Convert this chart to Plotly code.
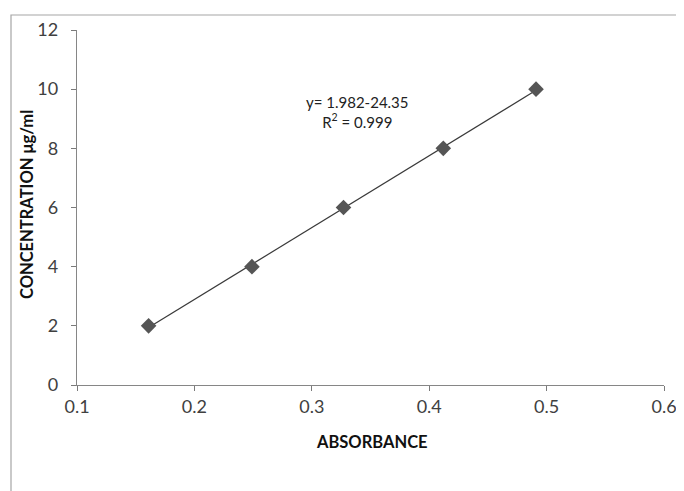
import numpy as np
import plotly.graph_objects as go

absorbance = [0.161, 0.249, 0.327, 0.412, 0.491]
concentration = [2, 4, 6, 8, 10]
x_ticks = [0.1, 0.2, 0.3, 0.4, 0.5, 0.6]
y_ticks = [0, 2, 4, 6, 8, 10, 12]
eq_text = "y= 1.982-24.35<br>R<sup>2</sup> = 0.999"
x_title = "<b>ABSORBANCE</b>"
y_title = "<b>CONCENTRATION μg/ml</b>"

slope, intercept = np.polyfit(absorbance, concentration, 1)
fit_x = [min(absorbance), max(absorbance)]
fit_y = [slope * v + intercept for v in fit_x]

font_family = "Lato, Open Sans, sans-serif"
OFF = 8  # page body offset
W, H = 684 - OFF, 491 - OFF
L, R, T, B = 77 - OFF, 20, 30 - OFF, 491 - 385
pw, ph = W - L - R, H - T - B

def px(xp):
    return (xp - OFF - L) / pw

def py(yp):
    return (H - B - (yp - OFF)) / ph

fig = go.Figure()
fig.add_trace(go.Scatter(x=fit_x, y=fit_y, mode="lines",
                         line=dict(color="#3a3a3a", width=1.2), hoverinfo="skip"))
fig.add_trace(go.Scatter(x=absorbance, y=concentration, mode="markers",
                         marker=dict(symbol="diamond", size=12, color="#555555")))

fig.add_annotation(x=px(357), y=py(112), xref="paper", yref="paper", text=eq_text, showarrow=False,
                   xanchor="center", yanchor="middle",
                   font=dict(family=font_family, size=15, color="#222222"), align="center")
fig.add_annotation(x=px(372), y=py(442), xref="paper", yref="paper", text=x_title, showarrow=False,
                   xanchor="center", yanchor="middle",
                   font=dict(family=font_family, size=16.5, color="#111111"))
fig.add_annotation(x=px(27), y=py(205), xref="paper", yref="paper", text=y_title, showarrow=False,
                   xanchor="center", yanchor="middle",
                   textangle=-90, font=dict(family=font_family, size=16.5, color="#111111"))

# outer chart border
fig.add_shape(type="rect", xref="paper", yref="paper", x0=px(11), x1=px(720), y0=py(540), y1=py(15),
              line=dict(color="#a6a6a6", width=1.2), fillcolor="rgba(0,0,0,0)", layer="below")

tick_font = dict(family=font_family, size=18, color="#404040")
fig.update_layout(
    width=W, height=H,
    margin=dict(l=L, r=R, t=T, b=B),
    paper_bgcolor="white", plot_bgcolor="white",
    showlegend=False,
    font=dict(family=font_family, size=16, color="#404040"),
    xaxis=dict(range=[0.1, 0.6], tickvals=x_ticks, ticktext=[str(v) for v in x_ticks],
               automargin=False, tickfont=tick_font,
               showgrid=False, zeroline=False, showline=True, linecolor="#868686", linewidth=1,
               ticks="outside", ticklen=5, tickwidth=1, tickcolor="#7a7a7a"),
    yaxis=dict(range=[0, 12], tickvals=y_ticks, ticktext=[f"{v}\u00a0\u00a0" for v in y_ticks],
               automargin=False, tickfont=tick_font,
               showgrid=False, zeroline=False, showline=True, linecolor="#868686", linewidth=1,
               ticks="outside", ticklen=5, tickwidth=1, tickcolor="#7a7a7a"),
)

fig.write_html("out.html")
